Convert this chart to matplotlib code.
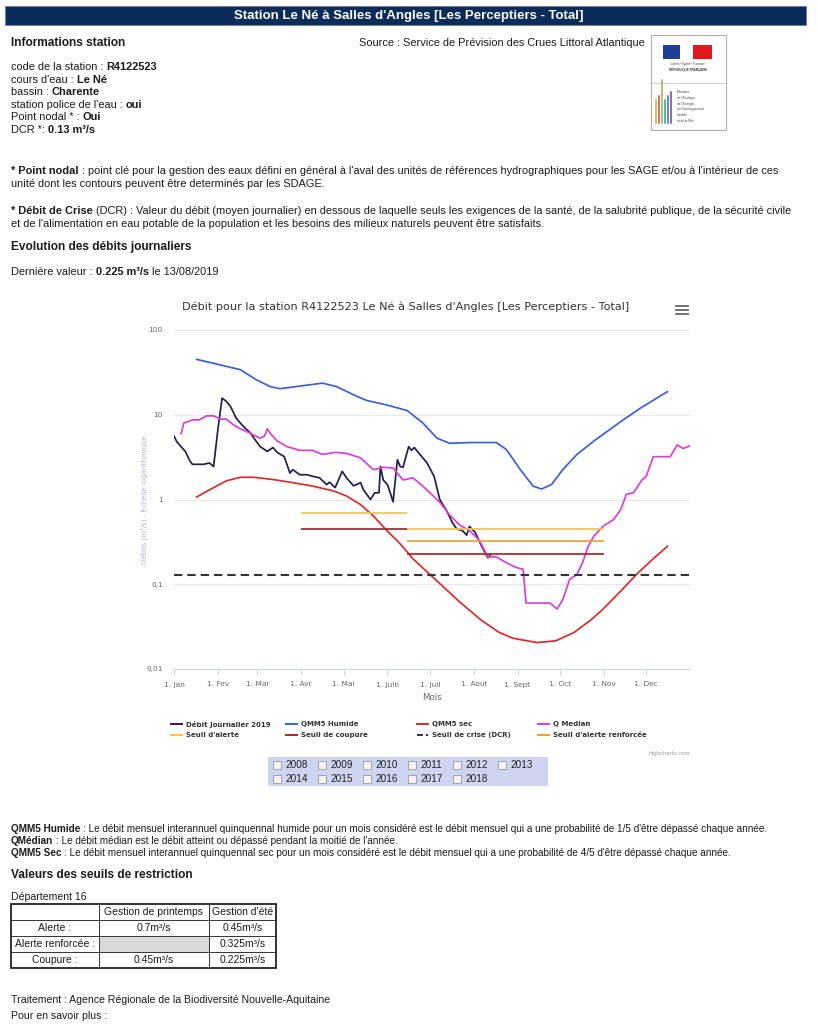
import matplotlib
matplotlib.use('Agg')
import matplotlib.pyplot as plt
from matplotlib.patches import Rectangle
from matplotlib.lines import Line2D
from matplotlib.ticker import NullLocator

# ---------------- data ----------------
month_days = [0, 31, 59, 90, 120, 151, 181, 212, 243, 273, 304, 334]
month_labels = ['1. Jan', '1. Fev', '1. Mar', '1. Avr', '1. Mai', '1. Juin',
                '1. Juil', '1. Aout', '1. Sept', '1. Oct', '1. Nov', '1. Dec']
y_ticks = [0.01, 0.1, 1, 10, 100]
y_tick_labels = ['0,01', '0,1', '1', '10', '100']

debit_days = [0, 2, 5, 8, 11, 13, 16, 21, 25, 28, 31, 34, 37, 40, 44, 49, 54, 58, 61, 66,
              70, 73, 78, 82, 84, 89, 94, 98, 103, 108, 110, 114, 119, 122, 127, 132, 134,
              139, 142, 145, 146, 148, 151, 155, 158, 160, 162, 166, 168, 170, 174, 179,
              184, 188, 193, 197, 200, 204, 207, 209, 213, 216, 220, 222, 224]
debit_vals = [5.6, 4.8, 4.2, 3.7, 2.9, 2.6, 2.6, 2.6, 2.7, 2.45, 6.6, 15.7, 14.4, 12.5, 9.1,
              7.3, 6.1, 4.9, 4.2, 3.7, 4.1, 3.6, 3.2, 2.05, 2.25, 1.96, 1.96, 1.88, 1.8, 1.5,
              1.6, 1.38, 2.15, 1.8, 1.45, 1.58, 1.3, 1.0, 1.2, 1.2, 2.45, 1.7, 1.5, 0.94,
              2.95, 2.45, 2.4, 4.2, 3.8, 4.1, 3.4, 2.7, 1.87, 1.0, 0.73, 0.53, 0.45, 0.43,
              0.38, 0.48, 0.41, 0.32, 0.235, 0.205, 0.225]

humide_days = [16, 32, 47, 58, 68, 75, 91, 105, 115, 127, 136, 150, 165, 176, 186, 195, 209,
               228, 235, 245, 254, 260, 267, 275, 285, 297, 316, 330, 349]
humide_vals = [45, 39, 34, 26, 21.5, 20.3, 22, 23.6, 21.5, 17.2, 14.8, 13.1, 11.2, 8, 5.3,
               4.6, 4.7, 4.7, 3.9, 2.25, 1.44, 1.33, 1.5, 2.25, 3.4, 4.9, 8.3, 12, 18.7]

sec_days = [16, 28, 37, 47, 56, 70, 84, 98, 113, 122, 132, 141, 150, 160, 169, 179, 190,
            202, 217, 230, 240, 257, 270, 283, 295, 303, 316, 328, 339, 349]
sec_vals = [1.07, 1.38, 1.66, 1.83, 1.83, 1.72, 1.58, 1.44, 1.26, 1.1, 0.87, 0.64, 0.44,
            0.30, 0.20, 0.14, 0.095, 0.062, 0.038, 0.027, 0.023, 0.0205, 0.0215, 0.027,
            0.038, 0.05, 0.083, 0.135, 0.2, 0.28]

median_days = [5, 7, 10, 13, 18, 23, 28, 33, 37, 42, 47, 51, 56, 61, 64, 66, 69, 73, 80, 89,
               98, 105, 114, 122, 132, 141, 146, 148, 155, 162, 169, 176, 181, 188, 195, 202,
               209, 216, 222, 228, 235, 242, 247, 249, 259, 266, 271, 275, 280, 285, 289,
               293, 297, 304, 311, 316, 320, 325, 331, 334, 339, 351, 356, 360, 365]
median_vals = [6.0, 8.0, 8.3, 8.7, 8.7, 9.7, 9.7, 8.9, 8.9, 7.6, 6.8, 6.4, 5.8, 5.3, 5.6,
               6.8, 5.8, 4.9, 4.2, 3.8, 3.8, 3.4, 3.6, 3.5, 3.1, 2.25, 2.35, 2.4, 2.35, 1.7,
               1.8, 1.44, 1.2, 0.93, 0.66, 0.5, 0.43, 0.33, 0.21, 0.21, 0.18, 0.158, 0.15,
               0.06, 0.06, 0.06, 0.051, 0.066, 0.115, 0.13, 0.18, 0.28, 0.37, 0.49, 0.58,
               0.76, 1.15, 1.2, 1.7, 1.87, 3.2, 3.2, 4.4, 4.0, 4.3]

alerte_start = [90, 165]
alerte_end = [165, 304]
alerte_vals = [0.7, 0.45]
coupure_start = [90, 165]
coupure_end = [165, 304]
coupure_vals = [0.45, 0.225]
renforcee_start = [165]
renforcee_end = [304]
renforcee_vals = [0.325]
dcr_value = 0.13

years = [2008, 2009, 2010, 2011, 2012, 2013, 2014, 2015, 2016, 2017, 2018]

table_header = ['', 'Gestion de printemps', "Gestion d'été"]
table_rows = [['Alerte :', '0.7m³/s', '0.45m³/s'],
              ['Alerte renforcée :', None, '0.325m³/s'],
              ['Coupure :', '0.45m³/s', '0.225m³/s']]

legend_labels = ['Débit Journalier 2019', 'QMM5 Humide', 'QMM5 sec', 'Q Median',
                 "Seuil d'alerte", 'Seuil de coupure', 'Seuil de crise (DCR)',
                 "Seuil d'alerte renforcée"]

# ---------------- styles ----------------
C_DEBIT = '#20204f'
C_HUM = '#3d5fd6'
C_SEC = '#dc2b2b'
C_MED = '#d93fd9'
C_ALERTE = '#f6c445'
C_COUP = '#a52828'
C_DCR = '#333333'
C_RENF = '#ef9f3a'

W, H = 818, 1024
fig = plt.figure(figsize=(W / 100, H / 100), dpi=100)
fig.patch.set_facecolor('white')
R = fig.canvas.get_renderer()

BODY = ['Liberation Sans', 'DejaVu Sans']
NARROW = ['Liberation Sans Narrow', 'Liberation Sans', 'DejaVu Sans']
CHART = ['DejaVu Sans']
TXT = '#1c1c1c'
FS = 7.9      # body text
FSB = 8.6     # section titles
FSS = 7.2     # small notes


def T(x, y, s, size=FS, weight='normal', color=TXT, ha='left', va='center', family=BODY, **kw):
    return fig.text(x / W, 1 - y / H, s, fontsize=size, fontweight=weight, color=color,
                    ha=ha, va=va, family=family, **kw)


def space_w(size, weight, family):
    a = T(0, 0, 'a a', size=size, weight=weight, family=family)
    b = T(0, 0, 'aa', size=size, weight=weight, family=family)
    w = a.get_window_extent(R).width - b.get_window_extent(R).width
    a.remove(); b.remove()
    return w


def rich(x, y, parts, size=FS, color=TXT, family=BODY):
    for s, w in parts:
        lead = len(s) - len(s.lstrip(' '))
        trail = len(s) - len(s.rstrip(' '))
        core = s.strip(' ')
        sp = space_w(size, w, family)
        x += lead * sp
        if core:
            t = T(x, y, core, size=size, weight=w, color=color, family=family)
            x += t.get_window_extent(R).width
        x += trail * sp
    return x


def rect(x0, y0, x1, y1, **kw):
    fig.patches.append(Rectangle((x0 / W, 1 - y1 / H), (x1 - x0) / W, (y1 - y0) / H,
                                 transform=fig.transFigure, figure=fig, **kw))


def hline(x0, x1, y, **kw):
    fig.lines.append(Line2D([x0 / W, x1 / W], [1 - y / H, 1 - y / H],
                            transform=fig.transFigure, figure=fig, **kw))


def vline(x, y0, y1, **kw):
    fig.lines.append(Line2D([x / W, x / W], [1 - y0 / H, 1 - y1 / H],
                            transform=fig.transFigure, figure=fig, **kw))


# ---------------- header ----------------
rect(5, 6, 806, 25, facecolor='#0b2b5a', edgecolor='#6c7f9c', lw=0.6)
T(409, 15.8, "Station Le Né à Salles d'Angles [Les Perceptiers - Total]", size=9.5,
  weight='bold', color='white', ha='center', family=NARROW)

T(11, 43, 'Informations station', size=FSB, weight='bold')
T(359, 43, 'Source : Service de Prévision des Crues Littoral Atlantique')

info = [[('code de la station : ', 'normal'), ('R4122523', 'bold')],
        [("cours d'eau : ", 'normal'), ('Le Né', 'bold')],
        [('bassin : ', 'normal'), ('Charente', 'bold')],
        [("station police de l'eau : ", 'normal'), ('oui', 'bold')],
        [('Point nodal * : ', 'normal'), ('Oui', 'bold')],
        [('DCR *: ', 'normal'), ('0.13 m³/s', 'bold')]]
for i, parts in enumerate(info):
    rich(11, 67 + 12.6 * i, parts)

# logo
rect(651, 35, 726, 130, facecolor='white', edgecolor='#b0b0b0', lw=0.8)
hline(651, 726, 83, color='#c8c8c8', lw=0.6)
rect(663, 45, 680, 59, facecolor='#1f3f94', edgecolor='none')
rect(680, 45, 693, 59, facecolor='white', edgecolor='none')
rect(693, 45, 712, 59, facecolor='#e2161d', edgecolor='none')
T(688, 64, 'Liberté • Égalité • Fraternité', size=2.0, color='#444', ha='center')
T(688, 69.5, 'RÉPUBLIQUE FRANÇAISE', size=2.2, weight='bold', color='#333', ha='center')
logo_cols = ['#e8a23a', '#d4463b', '#8bbf3c', '#2ca0a8', '#3c6fc0', '#7b3fa0']
for i, c in enumerate(logo_cols):
    vline(656 + 3 * i, 123, 100 - 4 * (i % 3) - (12 if i == 2 else 0), color=c, lw=1.1)
for i, s in enumerate(['Ministère', "de l'Écologie,", "de l'Énergie,",
                       'du Développement', 'durable', 'et de la Mer']):
    T(677, 92 + 5.8 * i, s, size=2.3, color='#444')

# paragraphs
rich(11, 171, [('* Point nodal', 'bold'),
               (" : point clé pour la gestion des eaux défini en général à l'aval des unités de références hydrographiques pour les SAGE et/ou à l'intérieur de ces", 'normal')])
T(11, 184, 'unité dont les contours peuvent être determinés par les SDAGE.')
rich(11, 211, [('* Débit de Crise', 'bold'),
               (" (DCR) : Valeur du débit (moyen journalier) en dessous de laquelle seuls les exigences de la santé, de la salubrité publique, de la sécurité civile", 'normal')])
T(11, 224, "et de l'alimentation en eau potable de la population et les besoins des milieux naturels peuvent être satisfaits.")

T(11, 247, 'Evolution des débits journaliers', size=FSB, weight='bold')
rich(11, 272, [('Dernière valeur : ', 'normal'), ('0.225 m³/s', 'bold'),
               (' le 13/08/2019', 'normal')])

# ---------------- chart ----------------
T(406, 307, "Débit pour la station R4122523 Le Né à Salles d'Angles [Les Perceptiers - Total]",
  size=8.1, color='#333333', ha='center', family=CHART)
for yy in (306, 310, 314):
    hline(676, 688, yy, color='#666666', lw=1.3)

ax = fig.add_axes([174 / W, 1 - 669 / H, 516 / W, 339 / H])
ax.set_yscale('log')
ax.set_ylim(0.01, 100)
ax.set_xlim(0, 365)
ax.set_yticks(y_ticks)
ax.set_yticklabels(y_tick_labels)
ax.yaxis.set_minor_locator(NullLocator())
ax.set_xticks(month_days)
ax.set_xticklabels(month_labels)
for sp in ('top', 'right', 'left'):
    ax.spines[sp].set_visible(False)
ax.spines['bottom'].set_color('#ccd6eb')
ax.spines['bottom'].set_linewidth(0.8)
ax.yaxis.grid(True, color='#e8e8e8', lw=0.8)
ax.set_axisbelow(True)
ax.tick_params(axis='y', length=0, pad=8, labelsize=5.3, labelcolor='#666666')
ax.tick_params(axis='x', length=4, width=0.8, color='#ccd6eb', pad=5, labelsize=5.3,
               labelcolor='#666666')
for lab in ax.get_xticklabels() + ax.get_yticklabels():
    lab.set_family(CHART)
ax.set_xlabel('Mois', fontsize=6.2, color='#666666', labelpad=4, family=CHART)
T(145, 500, 'Débits (m³/s) - Échelle logarithmique', size=5, color='#a9b8cf',
  ha='center', rotation=90, family=CHART)

lw = 1.25
ax.plot(debit_days, debit_vals, color=C_DEBIT, lw=lw)
ax.plot(humide_days, humide_vals, color=C_HUM, lw=lw)
ax.plot(sec_days, sec_vals, color=C_SEC, lw=lw)
ax.plot(median_days, median_vals, color=C_MED, lw=lw)
ax.hlines(alerte_vals, alerte_start, alerte_end, color=C_ALERTE, lw=lw)
ax.hlines(coupure_vals, coupure_start, coupure_end, color=C_COUP, lw=lw)
ax.axhline(dcr_value, color=C_DCR, lw=1.5, dashes=(4, 2.4))
ax.hlines(renforcee_vals, renforcee_start, renforcee_end, color=C_RENF, lw=lw)

# legend
leg_colors = [C_DEBIT, C_HUM, C_SEC, C_MED, C_ALERTE, C_COUP, C_DCR, C_RENF]
col_x = [171, 286, 417, 538]
row_y = [724, 735]
for i, (lab, c) in enumerate(zip(legend_labels, leg_colors)):
    x = col_x[i % 4]
    y = row_y[i // 4]
    if lab.startswith('Seuil de crise'):
        hline(x, x + 11, y, color=c, lw=1.4, dashes=(3, 1.6))
    else:
        hline(x, x + 11, y, color=c, lw=1.4)
    T(x + 15, y, lab, size=5, weight='bold', color='#333333', family=CHART)
T(690, 753, 'Highcharts.com', size=3.8, color='#999999', ha='right', family=CHART)

# year check boxes
rect(268, 757, 547, 785, facecolor='#cdd5f0', edgecolor='#c4cbe6', lw=0.5)
for i, yr in enumerate(years):
    cx = 273 + 45 * (i % 6)
    cy = 765 if i < 6 else 779
    rect(cx, cy - 4, cx + 8, cy + 4, facecolor='#f4f4f4', edgecolor='#9a9a9a', lw=0.6)
    T(cx + 12, cy, str(yr), size=7.2, color='#222222')

# ---------------- bottom text ----------------
rich(11, 829, [('QMM5 Humide', 'bold'), (" : Le débit mensuel interannuel quinquennal humide pour un mois considéré est le débit mensuel qui a une probabilité de 1/5 d'être dépassé chaque année.", 'normal')], size=FSS)
rich(11, 841, [('QMédian', 'bold'), (" : Le débit médian est le débit atteint ou dépassé pendant la moitié de l'année.", 'normal')], size=FSS)
rich(11, 853, [('QMM5 Sec', 'bold'), (" : Le débit mensuel interannuel quinquennal sec pour un mois considéré est le débit mensuel qui a une probabilité de 4/5 d'être dépassé chaque année.", 'normal')], size=FSS)

T(11, 875, 'Valeurs des seuils de restriction', size=FSB, weight='bold')
T(11, 897, 'Département 16', size=7.6)

# table
col_edges = [11, 99, 209, 276]
row_edges = [904, 920, 936, 952, 968]
rect(col_edges[1], row_edges[2], col_edges[2], row_edges[3], facecolor='#d9d9d9', edgecolor='none')
for ry in row_edges[1:-1]:
    hline(col_edges[0], col_edges[-1], ry, color='#333333', lw=0.7)
for cxx in col_edges[1:-1]:
    vline(cxx, row_edges[0], row_edges[-1], color='#333333', lw=0.7)
rect(col_edges[0], row_edges[0], col_edges[-1], row_edges[-1], facecolor='none',
     edgecolor='#222222', lw=1.3)
all_rows = [table_header] + table_rows
for r, row in enumerate(all_rows):
    yc = (row_edges[r] + row_edges[r + 1]) / 2
    for c, val in enumerate(row):
        if not val:
            continue
        xc = (col_edges[c] + col_edges[c + 1]) / 2
        T(xc, yc, val, size=7.5, ha='center')

T(11, 1000, 'Traitement : Agence Régionale de la Biodiversité Nouvelle-Aquitaine', size=7.6)
T(11, 1016, 'Pour en savoir plus :', size=7.6)

fig.savefig('out.png', dpi=100, facecolor='white')
